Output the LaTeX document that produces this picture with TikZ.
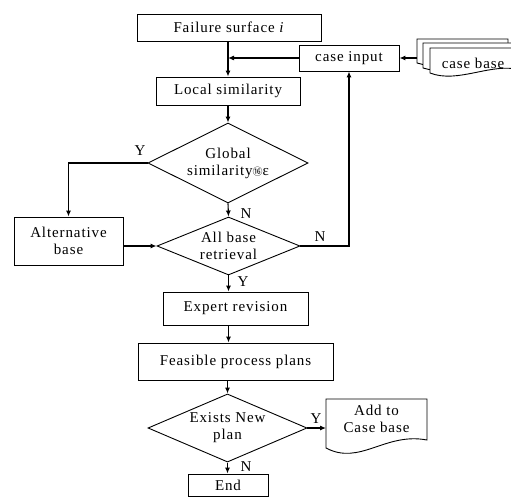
\documentclass[tikz,border=0pt]{standalone}
\usepackage{fontspec}
\setmainfont{Liberation Serif}[LetterSpace=6]
\newfontfamily\cjk{Noto Sans CJK SC}
\usetikzlibrary{shapes.geometric,arrows.meta}
\begin{document}
\begin{tikzpicture}[x=1pt,y=-1pt,
  every node/.style={font=\fontsize{15}{18}\selectfont, inner sep=0pt, align=center},
  box/.style={draw, line width=0.9pt, rectangle},
  decision/.style={draw, line width=0.9pt, diamond, aspect=2},
  lbl/.style={font=\fontsize{15}{18}\selectfont},
  flow/.style={line width=1.1pt, -{Latex[length=6pt,width=5pt]}},
  doc/.style={draw, line width=0.9pt, fill=white}]
\clip (0,0) rectangle (511,497);

% main column
\node[box, minimum width=184, minimum height=27] (fail) at (229,27.5) {Failure surface \textit{i}};
\node[box, minimum width=144, minimum height=28] (local) at (228,91) {Local similarity};
\node[box, minimum width=100, minimum height=26] (cinput) at (349,58) {case input};
\node[decision, minimum width=160, minimum height=80] (glob) at (228,163) {Global\\[-1pt]similarity{\cjk\fontsize{10}{10}\selectfont ⑯}ε};
\node[decision, minimum width=143, minimum height=58] (allb) at (228.5,246) {All base\\[-1pt]retrieval};
\node[box, minimum width=109, minimum height=48] (alt) at (68.5,241) {Alternative\\[-1pt]base};
\node[box, minimum width=145, minimum height=33] (expert) at (235.5,308.5) {Expert revision};
\node[box, minimum width=195, minimum height=37] (feas) at (235.5,361.5) {Feasible process plans};
\node[decision, minimum width=159, minimum height=67] (exists) at (227.5,428) {Exists New\\[-1pt]plan};
\node[box, minimum width=80, minimum height=22] (endn) at (228,485) {End};

% stacked case base documents
\draw[doc] (417,39) -- (508,39) -- (508,60) .. controls (480,52) and (445,72) .. (417,63) -- cycle;
\draw[doc] (423,43) -- (514,43) -- (514,65) .. controls (486,57) and (451,77) .. (423,68) -- cycle;
\draw[doc] (430,48) -- (520,48) -- (520,70) .. controls (492,62) and (458,84) .. (430,73) -- cycle;
\node (cbase) at (473,63) {case base};
\coordinate (cbasein) at (417,58);

% add-to-case-base document
\draw[doc] (326,399) -- (427,399) -- (427,440) .. controls (385,432) and (360,466) .. (326,448) -- cycle;
\node (add) at (376.5,419) {Add to\\[-1pt]Case base};
\coordinate (addin) at (326,428);

% connectors
\draw[flow] (local.north |- fail.south) -- (local.north);
\draw[flow] (cinput.west) -- (cinput.west -| local.north);
\draw[flow] (cbasein) -- (cinput.east);
\draw[flow] (local.south) -- (glob.north);
\draw[flow] (glob.south) -- (allb.north);
\draw[flow] (glob.west) -| (alt.north);
\draw[flow] (alt.east |- allb.west) -- (allb.west);
\draw[flow] (allb.east) -| (cinput.south);
\draw[flow] (allb.south) -- (allb.south |- expert.north);
\draw[flow] (allb.south |- expert.south) -- (allb.south |- feas.north);
\draw[flow] (exists.north |- feas.south) -- (exists.north);
\draw[flow] (exists.east) -- (addin);
\draw[flow] (exists.south) -- (exists.south |- endn.north);

% branch labels
\node[lbl] (ly1) at (140,151) {Y};
\node[lbl] (ln1) at (246,214) {N};
\node[lbl] (ln2) at (320,237) {N};
\node[lbl] (ly2) at (243,282) {Y};
\node[lbl] (ly3) at (316,419) {Y};
\node[lbl] (ln3) at (246,467) {N};
\end{tikzpicture}
\end{document}
